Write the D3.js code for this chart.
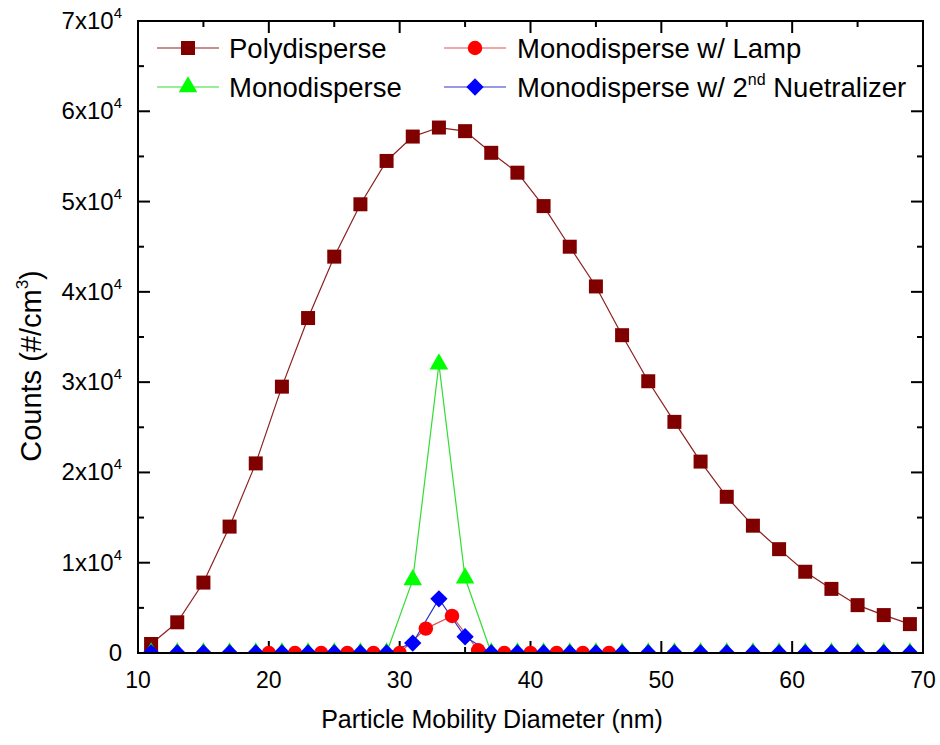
<!DOCTYPE html>
<html>
<head>
<meta charset="utf-8">
<script src="https://cdn.jsdelivr.net/npm/d3@7"></script>
<style>
  body { margin: 0; background: #fff; }
  text { font-family: "Liberation Sans", Arial, sans-serif; fill: #000; }
</style>
</head>
<body>
<div id="chart"></div>
<script>
// diameters (nm)
var polyX = d3.range(11, 70, 2);
var polyY = [1000, 3400, 7800, 14000, 21000, 29500, 37100, 43900, 49700, 54500,
             57200, 58200, 57800, 55400, 53200, 49500, 45000, 40600, 35200, 30100,
             25600, 21200, 17300, 14100, 11500, 9000, 7100, 5300, 4200, 3200];

var monoX = d3.range(11, 70, 2);
var monoY = [0, 0, 0, 0, 0, 0, 0, 0, 0, 0,
             8100, 32000, 8300, 0, 0, 0, 0, 0, 0, 0,
             0, 0, 0, 0, 0, 0, 0, 0, 0, 0];

var lampX = d3.range(20, 47, 2);
var lampY = [0, 0, 0, 0, 0, 0, 2700, 4100, 300, 0, 0, 0, 0, 0];

var neutX = d3.range(11, 70, 2);
var neutY = [0, 0, 0, 0, 0, 0, 0, 0, 0, 0,
             1100, 6000, 1800, 0, 0, 0, 0, 0, 0, 0,
             0, 0, 0, 0, 0, 0, 0, 0, 0, 0];

var yTicks = [0, 1, 2, 3, 4, 5, 6, 7];
var xTicks = [10, 20, 30, 40, 50, 60, 70];

var W = 940, H = 745;
var pL = 138, pR = 923, pT = 21, pB = 653;

var svg = d3.select("#chart").append("svg").attr("width", W).attr("height", H);

var x = d3.scaleLinear().domain([10, 70]).range([pL, pR]);
var y = d3.scaleLinear().domain([0, 70000]).range([pB, pT]);

svg.append("defs").append("clipPath").attr("id", "clip")
  .append("rect").attr("x", pL).attr("y", pT).attr("width", pR - pL).attr("height", pB - pT);

// square diamond like Origin's
var squareDiamond = {
  draw: function(ctx, size) {
    var r = Math.sqrt(size / 2);
    ctx.moveTo(0, -r); ctx.lineTo(r, 0); ctx.lineTo(0, r); ctx.lineTo(-r, 0); ctx.closePath();
  }
};

// ticks, all inward, on four sides
var xMinor = d3.range(15, 70, 10);
var yMinor = d3.range(5000, 70000, 10000);
function tickSet(g, vals, len, horiz) {
  vals.forEach(function(v) {
    if (horiz) {
      g.append("line").attr("x1", x(v)).attr("x2", x(v)).attr("y1", pB).attr("y2", pB - len);
      g.append("line").attr("x1", x(v)).attr("x2", x(v)).attr("y1", pT).attr("y2", pT + len);
    } else {
      g.append("line").attr("x1", pL).attr("x2", pL + len).attr("y1", y(v)).attr("y2", y(v));
      g.append("line").attr("x1", pR).attr("x2", pR - len).attr("y1", y(v)).attr("y2", y(v));
    }
  });
}
var tg = svg.append("g").attr("stroke", "#000").attr("stroke-width", 2);
tickSet(tg, xTicks, 12, true);
tickSet(tg, xMinor, 6, true);
tickSet(tg, yTicks.map(function(d) { return d * 10000; }), 12, false);
tickSet(tg, yMinor, 6, false);

// tick labels
svg.append("g").selectAll("text").data(xTicks).join("text")
  .attr("x", function(d) { return x(d); }).attr("y", 688)
  .attr("text-anchor", "middle").attr("font-size", 23)
  .text(function(d) { return d; });

var yl = svg.append("g").selectAll("text").data(yTicks).join("text")
  .attr("x", 122).attr("y", function(d) { return y(d * 10000) + 8; })
  .attr("text-anchor", "end").attr("font-size", 24);
yl.each(function(d) {
  var t = d3.select(this);
  if (d === 0) { t.text("0"); return; }
  t.append("tspan").text(d + "x10");
  t.append("tspan").attr("dy", -11).attr("font-size", 15).text("4");
});

// axis titles
svg.append("text").attr("x", 492).attr("y", 728).attr("text-anchor", "middle")
  .attr("font-size", 25).text("Particle Mobility Diameter (nm)");
var yt = svg.append("text").attr("transform", "translate(41,366) rotate(-90)")
  .attr("text-anchor", "middle").attr("font-size", 29);
yt.append("tspan").text("Counts (#/cm");
yt.append("tspan").attr("dy", -13).attr("font-size", 17).text("3");
yt.append("tspan").attr("dy", 13).text(")");

// series
var series = [
  { name: "Polydisperse", xs: polyX, ys: polyY, color: "#800000", line: "#8b2020", shape: d3.symbolSquare, size: 196 },
  { name: "Monodisperse", xs: monoX, ys: monoY, color: "#00ff00", line: "#33dd33", shape: d3.symbolTriangle, size: 150 },
  { name: "Monodisperse w/ Lamp", xs: lampX, ys: lampY, color: "#ff0000", line: "#e05050", shape: d3.symbolCircle, size: 165 },
  { name: "Monodisperse w/ 2nd Nuetralizer", xs: neutX, ys: neutY, color: "#0000ff", line: "#3333cc", shape: squareDiamond, size: 150 }
];

var plot = svg.append("g").attr("clip-path", "url(#clip)");
series.forEach(function(s) {
  var pts = s.xs.map(function(v, i) { return [v, s.ys[i]]; });
  plot.append("path").datum(pts)
    .attr("fill", "none").attr("stroke", s.line).attr("stroke-width", 1.2)
    .attr("d", d3.line().x(function(d) { return x(d[0]); }).y(function(d) { return y(d[1]); }));
});
series.forEach(function(s) {
  var pts = s.xs.map(function(v, i) { return [v, s.ys[i]]; });
  plot.append("g").selectAll("path").data(pts).join("path")
    .attr("transform", function(d) { return "translate(" + x(d[0]) + "," + y(d[1]) + ")"; })
    .attr("d", d3.symbol().type(s.shape).size(s.size))
    .attr("fill", s.color);
});

// frame
svg.append("rect").attr("x", pL).attr("y", pT).attr("width", pR - pL).attr("height", pB - pT)
  .attr("fill", "none").attr("stroke", "#000").attr("stroke-width", 2);

// legend
var legPos = [
  { lx: 157, tx: 229, y: 48 },
  { lx: 157, tx: 229, y: 87 },
  { lx: 444, tx: 517, y: 48 },
  { lx: 444, tx: 517, y: 87 }
];
series.forEach(function(s, i) {
  var p = legPos[i];
  var g = svg.append("g");
  g.append("line").attr("x1", p.lx).attr("x2", p.lx + 62).attr("y1", p.y).attr("y2", p.y)
    .attr("stroke", s.line).attr("stroke-width", 1.2);
  g.append("path").attr("transform", "translate(" + (p.lx + 31) + "," + p.y + ")")
    .attr("d", d3.symbol().type(s.shape).size(s.size)).attr("fill", s.color);
  var t = g.append("text").attr("x", p.tx).attr("y", p.y + 10).attr("font-size", 27.5);
  if (i === 3) {
    t.append("tspan").text("Monodisperse w/ 2");
    t.append("tspan").attr("dy", -12).attr("font-size", 16).text("nd");
    t.append("tspan").attr("dy", 12).text(" Nuetralizer");
  } else {
    t.text(s.name);
  }
});
</script>
</body>
</html>
